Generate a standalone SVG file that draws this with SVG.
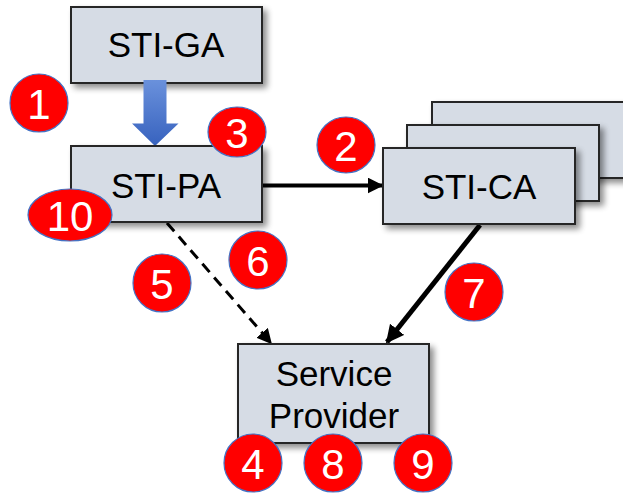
<svg xmlns="http://www.w3.org/2000/svg" width="623" height="493" viewBox="0 0 623 493">
<style>
.box{fill:#D6DCE5;stroke:#262626;stroke-width:2;filter:url(#sh)}
.lbl{font-family:"Liberation Sans",Arial,sans-serif;font-size:35px;fill:#000;text-anchor:middle}
.badge ellipse{fill:#FF0000;stroke:#4472C4;stroke-width:1.2}
.badge text{font-family:"Liberation Sans",Arial,sans-serif;font-size:42px;fill:#fff;text-anchor:middle}
.con{fill:none;stroke:#000}
</style>
<defs>
<filter id="sh" x="-10%" y="-10%" width="130%" height="140%">
<feGaussianBlur in="SourceAlpha" stdDeviation="3"/>
<feOffset dx="4" dy="4" result="b"/>
<feComponentTransfer><feFuncA type="linear" slope="0.45"/></feComponentTransfer>
<feMerge><feMergeNode/><feMergeNode in="SourceGraphic"/></feMerge>
</filter>
<linearGradient id="bg" x1="0" y1="0" x2="0" y2="1">
<stop offset="0" stop-color="#6A91DC"/>
<stop offset="1" stop-color="#3762BE"/>
</linearGradient>
<marker id="ah" viewBox="0 0 10 10" refX="9" refY="5" markerWidth="4" markerHeight="4" orient="auto" markerUnits="strokeWidth">
<path d="M0,0 L10,5 L0,10 z" fill="#000"/>
</marker>
<marker id="ahd" viewBox="0 0 10 10" refX="9" refY="5" markerWidth="5" markerHeight="5" orient="auto" markerUnits="strokeWidth">
<path d="M0,0 L10,5 L0,10 z" fill="#000"/>
</marker>
<marker id="ahs" viewBox="0 0 10 10" refX="9" refY="5" markerWidth="3.6" markerHeight="3.6" orient="auto" markerUnits="strokeWidth">
<path d="M0,0 L10,5 L0,10 z" fill="#000"/>
</marker>
</defs>
<rect width="623" height="493" fill="#fff"/>

<g id="connectors">
<path class="con" d="M262,185.5 L382,185.5" stroke-width="4" marker-end="url(#ah)"/>
<path class="con" d="M480,225 L387,342" stroke-width="5" marker-end="url(#ahs)"/>
<path class="con" d="M167,223 L271,343" stroke-width="3" stroke-dasharray="11,7" marker-end="url(#ahd)"/>
</g>

<g id="sti-ga">
<rect class="box" x="71" y="7" width="191" height="76"/>
<text class="lbl" x="166" y="57">STI-GA</text>
</g>

<g id="ga-pa-arrow">
<path d="M143.5,80 L166.5,80 L166.5,123.5 L178.5,123.5 L155,146 L132,123.5 L143.5,123.5 z" fill="url(#bg)"/>
</g>

<g id="sti-pa">
<rect class="box" x="71" y="146" width="191" height="76"/>
<text class="lbl" x="166" y="198">STI-PA</text>
</g>

<g id="sti-ca">
<rect class="box" x="432" y="102" width="194" height="76"/>
<rect class="box" x="407" y="125" width="192" height="76"/>
<rect class="box" x="383" y="148" width="192" height="76"/>
<text class="lbl" x="479" y="199">STI-CA</text>
</g>

<g id="service-provider">
<rect class="box" x="238" y="344" width="191" height="99"/>
<text class="lbl" x="334" y="386">Service</text>
<text class="lbl" x="334" y="428">Provider</text>
</g>

<g id="badge-1" class="badge"><ellipse cx="39" cy="103" rx="29" ry="29"/><text x="39" y="119">1</text></g>
<g id="badge-2" class="badge"><ellipse cx="346" cy="145" rx="29" ry="28"/><text x="346" y="161">2</text></g>
<g id="badge-3" class="badge"><ellipse cx="237" cy="132" rx="29" ry="25"/><text x="237" y="148">3</text></g>
<g id="badge-10" class="badge"><ellipse cx="70" cy="215" rx="42" ry="26"/><text x="70" y="231">10</text></g>
<g id="badge-5" class="badge"><ellipse cx="162" cy="283" rx="29" ry="29"/><text x="162" y="299">5</text></g>
<g id="badge-6" class="badge"><ellipse cx="258" cy="260" rx="29" ry="29"/><text x="258" y="276">6</text></g>
<g id="badge-7" class="badge"><ellipse cx="474" cy="292" rx="29" ry="29"/><text x="474" y="308">7</text></g>
<g id="badge-4" class="badge"><ellipse cx="253" cy="463" rx="29" ry="29"/><text x="253" y="479">4</text></g>
<g id="badge-8" class="badge"><ellipse cx="333" cy="463" rx="29" ry="29"/><text x="333" y="479">8</text></g>
<g id="badge-9" class="badge"><ellipse cx="423" cy="463" rx="29" ry="29"/><text x="423" y="479">9</text></g>
</svg>
